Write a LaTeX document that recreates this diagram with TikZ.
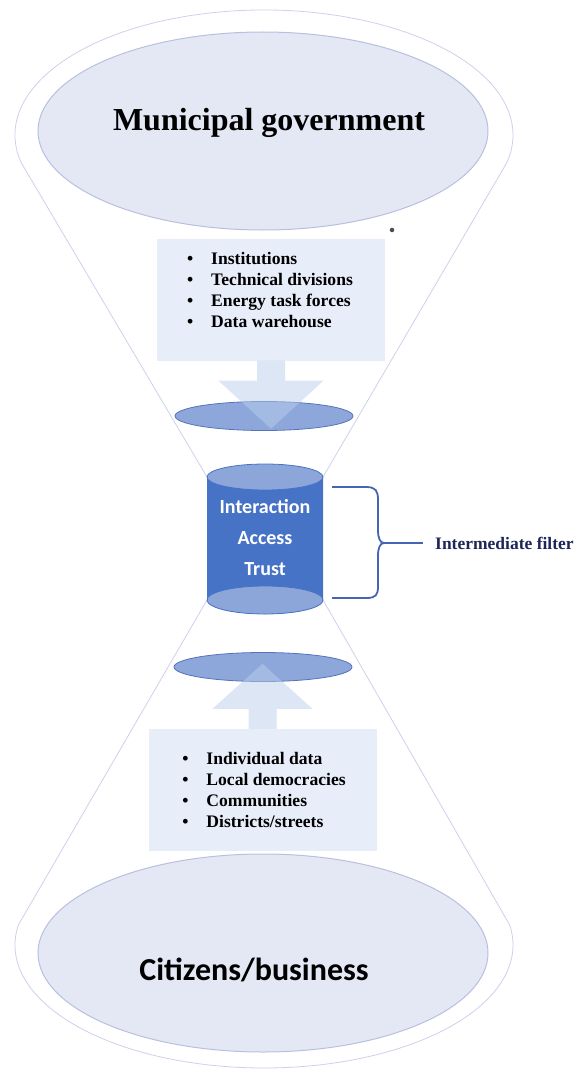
\documentclass[tikz,border=0pt]{standalone}
\usepackage{fontspec}
\setmainfont{Liberation Serif}
\newfontfamily\carlito{Carlito}
\usetikzlibrary{calc,shapes.geometric,positioning}

\definecolor{lavfill}{HTML}{E4E7F4}
\definecolor{lavline}{HTML}{B9C0DF}
\definecolor{glassline}{HTML}{CDD1EA}
\definecolor{boxfill}{HTML}{E7EEF9}
\definecolor{arrowfill}{HTML}{B9CDEB}
\definecolor{diskfill}{HTML}{8DA7DB}
\definecolor{diskline}{HTML}{5673BA}
\definecolor{cylbody}{HTML}{4773C6}
\definecolor{cylface}{HTML}{8CA6DA}
\definecolor{bracecol}{HTML}{4464B4}
\definecolor{navy}{HTML}{1C2658}

\newcommand{\bul}{\textbullet\hspace{18pt}}

\begin{document}
\begin{tikzpicture}[x=1pt,y=-1pt,
    bigell/.style={ellipse,fill=lavfill,draw=lavline,line width=1pt,
      minimum width=450pt,minimum height=198pt},
    disk/.style={ellipse,fill=diskfill,draw=diskline,line width=0.8pt,
      minimum width=178pt,minimum height=29pt},
    infobox/.style={rectangle,fill=boxfill,minimum width=228pt,minimum height=122pt},
    flowarrow/.style={fill=arrowfill,opacity=0.5},
    hglass/.style={draw=glassline,line width=0.8pt},
    listtext/.style={font=\bfseries\fontsize{17.6}{21}\selectfont,inner sep=0pt,align=left},
    bracestyle/.style={draw=bracecol,line width=1.8pt}]
    \useasboundingbox (0,0) rectangle (576,1070);
    %% Define constants
    \def\Rx{249}
    \def\Ry{125}
    \def\cylr{58}
    %% Locate important points
    \coordinate (topc) at (264,135);
    \coordinate (botc) at (264,945);
    \coordinate (cyltl) at (207,477);
    \coordinate (cyltr) at (323,477);
    \coordinate (cylbl) at (207,600);
    \coordinate (cylbr) at (323,600);
    %% Draw the hourglass outline
    \draw[hglass] (cyltl) -- ($(topc)+(167.1:{\Rx} and {\Ry})$)
      arc[start angle=167.1,end angle=372.9,x radius=\Rx,y radius=\Ry] -- (cyltr);
    \draw[hglass] (cylbl) -- ($(botc)+(189.4:{\Rx} and 123)$)
      arc[start angle=189.4,end angle=-9.4,x radius=\Rx,y radius=123] -- (cylbr);
    %% Big ellipses
    \node[bigell] (gov) at (263,131) {};
    \node[font=\bfseries\fontsize{32}{38}\selectfont] (govlabel) at ($(gov.center)+(6,-8)$) {Municipal government};
    \node[bigell] (cit) at (263,953) {};
    \node[font=\carlito\bfseries\fontsize{32}{38}\selectfont] (citlabel) at ($(cit.center)+(-9,17)$) {Citizens/business};
    %% Boxes with lists
    \node[infobox] (govbox) at (271,299.5) {};
    \node[listtext] (govlist) at (270,290) {\bul Institutions\\ \bul Technical divisions\\
      \bul Energy task forces\\ \bul Data warehouse};
    \node[infobox] (citbox) at (262.5,790) {};
    \node[listtext] (citlist) at (264,790) {\bul Individual data\\ \bul Local democracies\\
      \bul Communities\\ \bul Districts/streets};
    %% Disks
    \node[disk] (topdisk) at (264,416) {};
    \node[disk] (botdisk) at (263,667) {};
    %% Block arrows
    \fill[flowarrow] ($(govbox.south)+(-14,0)$) -- ++(0,20) -- ++(-38.5,0)
      -- ($(govbox.south)+(0,68)$) -- ++(52.5,-48) -- ++(-38.5,0) -- ++(0,-20) -- cycle;
    \fill[flowarrow] ($(citbox.north)+(-14,0)$) -- ++(0,-20) -- ++(-36,0)
      -- ($(citbox.north)+(0,-65)$) -- ++(50,45) -- ++(-36,0) -- ++(0,20) -- cycle;
    %% Cylinder
    \fill[cylbody] (cyltl) -- (cylbl) arc[start angle=180,end angle=0,x radius=\cylr,y radius=14]
      -- (cyltr) -- cycle;
    \filldraw[fill=cylface,draw=cylbody,line width=0.8pt] ($(cylbl)!0.5!(cylbr)$) ellipse[x radius=\cylr,y radius=14];
    \filldraw[fill=cylface,draw=cylbody,line width=0.8pt] ($(cyltl)!0.5!(cyltr)$) ellipse[x radius=\cylr,y radius=13];
    \node[font=\carlito\bfseries\fontsize{20}{31}\selectfont,text=white,align=center] (filter) at (265,538)
      {Interaction\\Access\\Trust};
    %% Brace and its label
    \coordinate (bracetip) at (384,543);
    \draw[bracestyle] (332,487) -- (366,487) .. controls (376,487) and (378,491) .. (378,500)
      -- (378,530) .. controls (378,538) and (380,543) .. (bracetip)
      .. controls (380,543) and (378,548) .. (378,556)
      -- (378,586) .. controls (378,595) and (376,598) .. (366,598) -- (332,598);
    \node[anchor=west,inner xsep=12pt,inner ysep=0pt,text=navy,font=\bfseries\fontsize{17.5}{20}\selectfont] (filterlbl) at (423,543) {Intermediate filter};
    \draw[bracestyle] (bracetip) -- (filterlbl.west);
    % stray dot next to the upper box
    \node[circle,fill=black!70,inner sep=1.6pt] (dot) at (392,230) {};
  \end{tikzpicture}
\end{document}
